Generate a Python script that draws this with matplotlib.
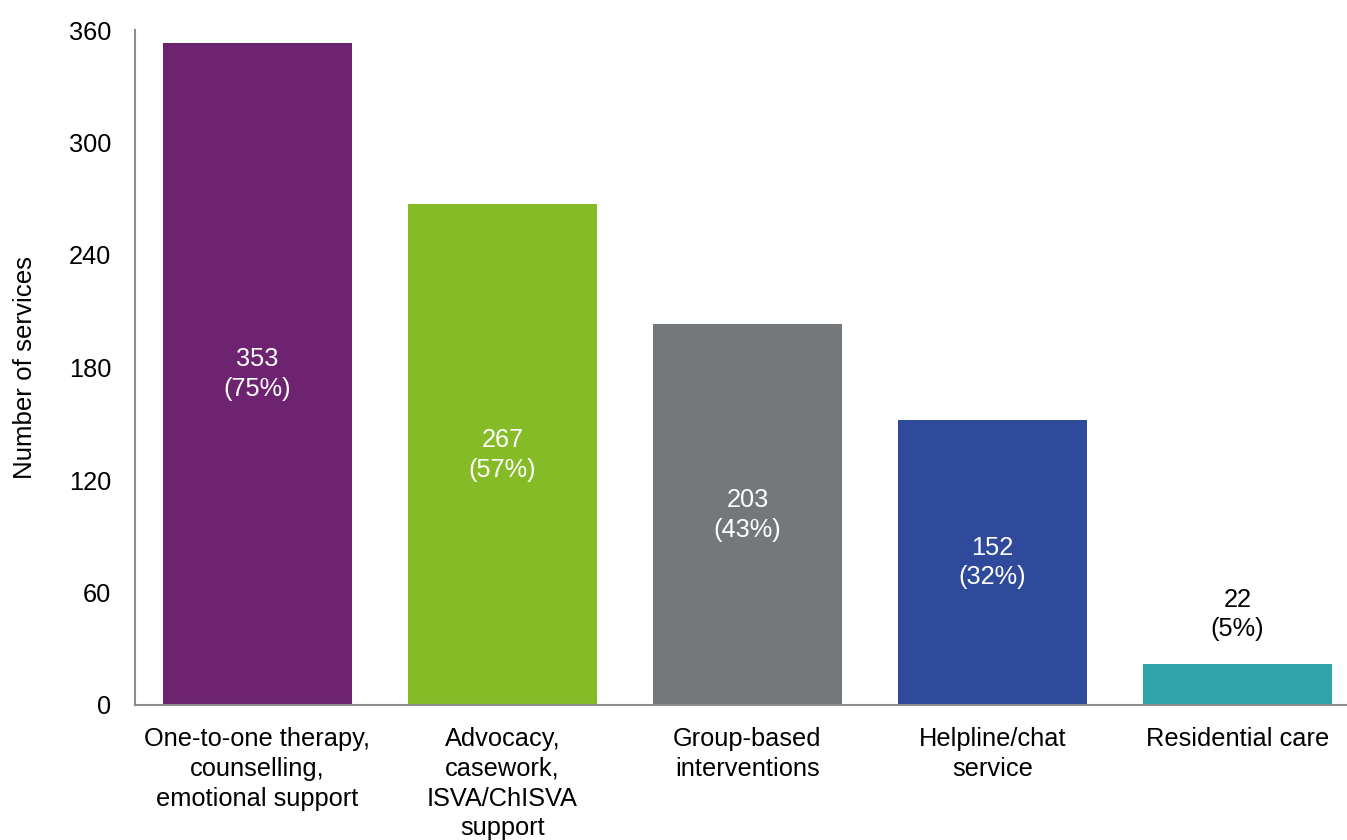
import matplotlib.pyplot as plt

# data
categories = ["One-to-one therapy,\ncounselling,\nemotional support",
              "Advocacy,\ncasework,\nISVA/ChISVA\nsupport",
              "Group-based\ninterventions",
              "Helpline/chat\nservice",
              "Residential care"]
counts = [353, 267, 203, 152, 22]
percents = [75, 57, 43, 32, 5]
colors = ["#6E2371", "#86BB28", "#75787B", "#2F4A9A", "#2EA3A8"]

plt.rcParams["font.family"] = ["Liberation Sans", "DejaVu Sans"]
plt.rcParams["font.size"] = 18.3

fig = plt.figure(figsize=(13.47, 8.4), dpi=100)
ax = fig.add_axes([135 / 1347, 1 - 705 / 840, 1 - 135 / 1347, 675 / 840])

x = list(range(len(categories)))
bars = ax.bar(x, counts, width=0.77, color=colors)

for i, (c, p) in enumerate(zip(counts, percents)):
    label = f"{c}\n({p}%)"
    if c > 60:
        ax.text(i, c / 2, label, ha="center", va="center", color="white",
                linespacing=1.3)
    else:
        ax.text(i, c + 12, label, ha="center", va="bottom", color="black",
                linespacing=1.3)

ax.set_xlim(-0.5, 4.5 - 13 / 245)
ax.set_ylim(0, 360)
ax.set_yticks(range(0, 361, 60))
ax.set_xticks(x)
ax.set_xticklabels(categories, linespacing=1.3)
ax.tick_params(axis="both", length=0)
ax.tick_params(axis="y", pad=17)
ax.tick_params(axis="x", pad=16)
ax.set_ylabel("Number of services", labelpad=23, fontsize=18.6)

for s in ["top", "right"]:
    ax.spines[s].set_visible(False)
for s in ["left", "bottom"]:
    ax.spines[s].set_color("#8C8C8C")
    ax.spines[s].set_linewidth(1.5)

plt.savefig("out.png", dpi=100)
